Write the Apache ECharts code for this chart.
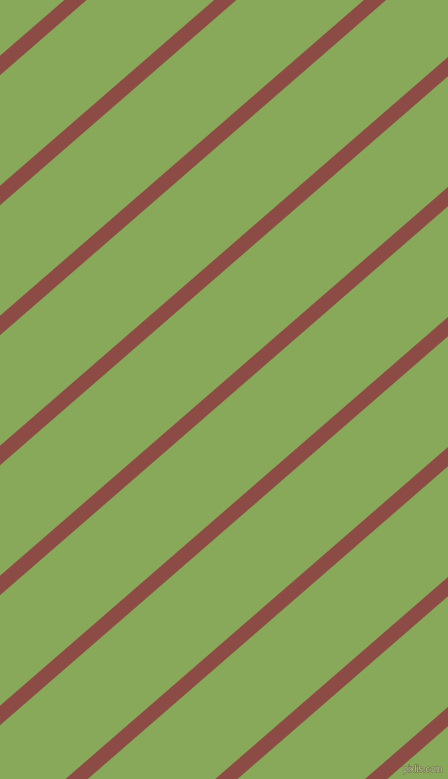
<!DOCTYPE html>
<html>
<head>
<meta charset="utf-8">
<script src="https://cdn.jsdelivr.net/npm/echarts@6/dist/echarts.min.js"></script>
<style>html,body{margin:0;padding:0;background:#88a85a;}#c{width:448px;height:779px;}</style>
</head>
<body>
<div id="c"></div>
<script>
// Stripe data: y-intercepts at x=0 (pixel units of the value axes) and common slope
const stripeIntercepts = [65.5, 195.5, 325.5, 455.5, 585.5, 715.5, 845.5, 975.5, 1105.5];
const stripeSlope = 0.868;
const xExtent = [0, 448];
const yExtent = [0, 779];

const chart = echarts.init(document.getElementById('c'), null, {renderer: 'canvas'});
const series = stripeIntercepts.map(function (b) {
  const xEnd = b / stripeSlope + 20;
  return {
    type: 'line',
    data: [[-20, b + stripeSlope * 20], [xEnd, b - stripeSlope * xEnd]],
    symbol: 'none',
    clip: true,
    silent: true,
    lineStyle: {color: '#8c4c45', width: 14.6, cap: 'butt'},
    animation: false
  };
});
chart.setOption({
  backgroundColor: '#88a85a',
  animation: false,
  grid: {left: 0, right: 0, top: 0, bottom: 0},
  xAxis: {type: 'value', min: xExtent[0], max: xExtent[1], show: false},
  yAxis: {type: 'value', min: yExtent[0], max: yExtent[1], inverse: true, show: false},
  series: series,
  graphic: [{
    type: 'text',
    z: 100,
    x: 403,
    y: 765,
    style: {
      text: 'pixlis.com',
      font: '9px "Liberation Sans"',
      fill: '#b9c4a0',
      stroke: '#6f6a45',
      lineWidth: 1,
      textVerticalAlign: 'top'
    }
  }]
});
</script>
</body>
</html>
